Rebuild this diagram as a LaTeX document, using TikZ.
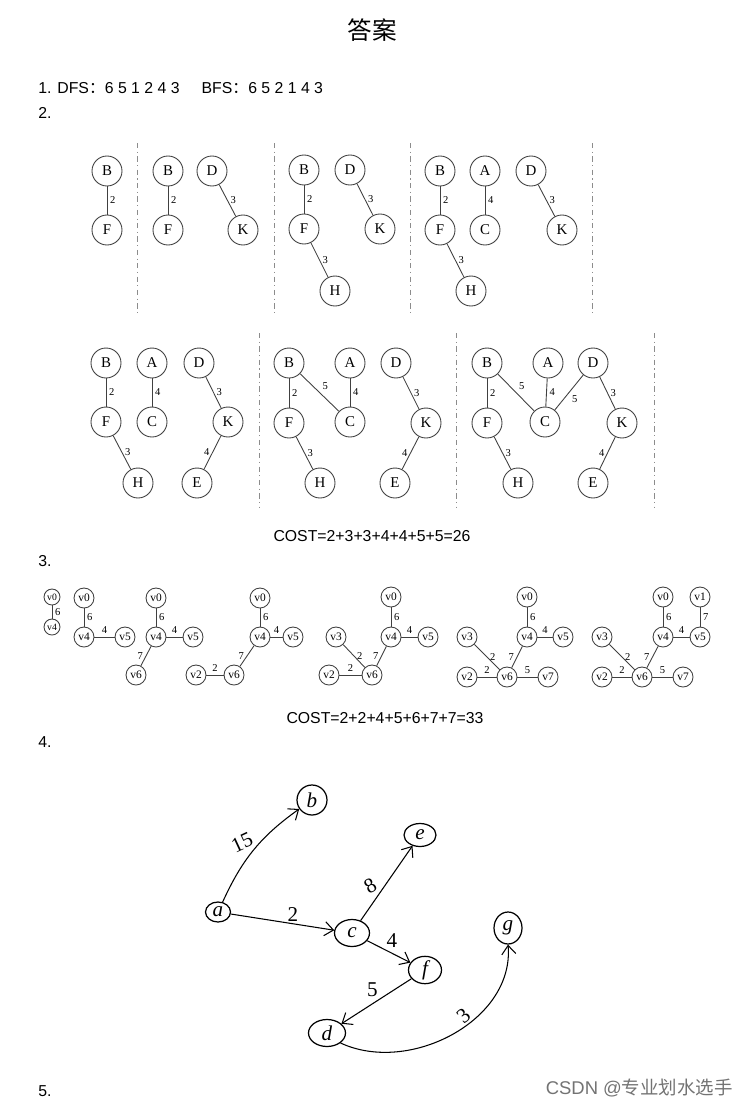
\documentclass[tikz,border=0pt]{standalone}
\usepackage{fontspec}
\setmainfont{Liberation Serif}
\newfontfamily\testo{Liberation Sans}
\newfontfamily\cjk{Noto Sans CJK SC}
\usetikzlibrary{arrows.meta,shapes.geometric}

\begin{document}
\begin{tikzpicture}[
    x=0.02cm, y=-0.02cm,
    nd/.style={circle, draw=black!75, line width=0.5pt, minimum size=0.6cm, inner sep=0pt,
      font=\fontsize{8.5}{9}\selectfont},
    vv/.style={circle, draw=black!75, line width=0.5pt, minimum size=0.4cm, inner sep=0pt,
      font=\fontsize{6.5}{7}\selectfont},
    pv/.style={vv, minimum size=0.32cm, font=\fontsize{5.5}{6}\selectfont},
    ar/.style={draw=black!75, line width=0.5pt},
    pe/.style={font=\fontsize{6}{7}\selectfont, inner sep=1.5pt},
    sep/.style={black!45, line width=0.4pt, dash pattern=on 3pt off 2pt on 0.6pt off 2pt},
    tx/.style={font=\testo\fontsize{9}{11}\selectfont, inner sep=0pt},
    hw/.style={ellipse, draw, line width=0.7pt, inner sep=0pt,
      font=\itshape\fontsize{12}{13}\selectfont},
    fr/.style={line width=0.6pt, -{Straight Barb[length=5pt, width=8pt]}},
    hl/.style={font=\fontsize{12}{13}\selectfont, inner sep=1pt},
  ]
  \useasboundingbox (0,0) rectangle (748,1109);

  % --- titolo e risposte testuali ---
  \node[font=\cjk\fontsize{14}{16}\selectfont] (titolo) at (372,30) {答案};
  \node[tx, anchor=west] (r1) at (38,88)
       {1. DFS{\cjk ：}6 5 1 2 4 3\hspace{1.4em}BFS{\cjk ：}6 5 2 1 4 3};
  \node[tx, anchor=west] (r2) at (38,113) {2.};

  % --- 2. prima riga ---
  \node[nd] (b1) at (107,171) {B};
  \node[nd] (f1) at (107,230) {F};
  \draw[ar] (b1) -- node[pe, right] {2} (f1);
  \draw[sep] (137,143) -- (137,313);

  \node[nd] (b2) at (168,171) {B};
  \node[nd] (f2) at (168,230) {F};
  \node[nd] (d2) at (212,171) {D};
  \node[nd] (k2) at (243,230) {K};
  \draw[ar] (b2) -- node[pe, right] {2} (f2);
  \draw[ar] (d2) -- node[pe, right] {3} (k2);
  \draw[sep] (274,143) -- (274,313);

  \node[nd] (b3) at (304,170) {B};
  \node[nd] (f3) at (304,229) {F};
  \node[nd] (d3) at (350,170) {D};
  \node[nd] (k3) at (380,229) {K};
  \node[nd] (h3) at (335,291) {H};
  \draw[ar] (b3) -- node[pe, right] {2} (f3);
  \draw[ar] (d3) -- node[pe, right] {3} (k3);
  \draw[ar] (f3) -- node[pe, right] {3} (h3);
  \draw[sep] (410,143) -- (410,313);

  \node[nd] (b4) at (440,171) {B};
  \node[nd] (f4) at (440,230) {F};
  \node[nd] (a4) at (485,171) {A};
  \node[nd] (c4) at (485,230) {C};
  \node[nd] (d4) at (531,171) {D};
  \node[nd] (k4) at (562,230) {K};
  \node[nd] (h4) at (471,291) {H};
  \draw[ar] (b4) -- node[pe, right] {2} (f4);
  \draw[ar] (a4) -- node[pe, right] {4} (c4);
  \draw[ar] (d4) -- node[pe, right] {3} (k4);
  \draw[ar] (f4) -- node[pe, right] {3} (h4);
  \draw[sep] (592,143) -- (592,313);

  % --- 2. seconda riga ---
  \node[nd] (b5) at (106,363) {B};
  \node[nd] (f5) at (106,422) {F};
  \node[nd] (a5) at (152,363) {A};
  \node[nd] (c5) at (152,422) {C};
  \node[nd] (d5) at (199,363) {D};
  \node[nd] (k5) at (228,422) {K};
  \node[nd] (h5) at (138,483) {H};
  \node[nd] (e5) at (197,483) {E};
  \draw[ar] (b5) -- node[pe, right] {2} (f5);
  \draw[ar] (a5) -- node[pe, right] {4} (c5);
  \draw[ar] (d5) -- node[pe, right] {3} (k5);
  \draw[ar] (f5) -- node[pe, right] {3} (h5);
  \draw[ar] (k5) -- node[pe, left] {4} (e5);
  \draw[sep] (259,333) -- (259,508);

  \node[nd] (b6) at (289,363) {B};
  \node[nd] (f6) at (289,423) {F};
  \node[nd] (a6) at (350,363) {A};
  \node[nd] (c6) at (350,422) {C};
  \node[nd] (d6) at (396,363) {D};
  \node[nd] (k6) at (426,423) {K};
  \node[nd] (h6) at (320,483) {H};
  \node[nd] (e6) at (395,483) {E};
  \draw[ar] (b6) -- node[pe, right] {2} (f6);
  \draw[ar] (b6) -- node[pe, above right] {5} (c6);
  \draw[ar] (a6) -- node[pe, right] {4} (c6);
  \draw[ar] (d6) -- node[pe, right] {3} (k6);
  \draw[ar] (f6) -- node[pe, right] {3} (h6);
  \draw[ar] (k6) -- node[pe, left] {4} (e6);
  \draw[sep] (456,333) -- (456,508);

  \node[nd] (b7) at (487,363) {B};
  \node[nd] (f7) at (487,423) {F};
  \node[nd] (a7) at (548,363) {A};
  \node[nd] (c7) at (545,422) {C};
  \node[nd] (d7) at (593,363) {D};
  \node[nd] (k7) at (622,423) {K};
  \node[nd] (h7) at (518,483) {H};
  \node[nd] (e7) at (593,483) {E};
  \draw[ar] (b7) -- node[pe, right] {2} (f7);
  \draw[ar] (b7) -- node[pe, above right] {5} (c7);
  \draw[ar] (a7) -- node[pe, right] {4} (c7);
  \draw[ar] (c7) -- node[pe, below right] {5} (d7);
  \draw[ar] (d7) -- node[pe, right] {3} (k7);
  \draw[ar] (f7) -- node[pe, right] {3} (h7);
  \draw[ar] (k7) -- node[pe, left] {4} (e7);
  \draw[sep] (654,333) -- (654,508);

  \node[tx] (c26) at (372,536) {COST=2+3+3+4+4+5+5=26};
  \node[tx, anchor=west] (r3) at (38,561) {3.};

  % --- 3. alberi v0..v7 ---
  \node[pv] (p0) at (52,597) {v0};
  \node[pv] (p4) at (52,627) {v4};
  \draw[ar] (p0) -- node[pe, right] {6} (p4);

  \node[vv] (q0) at (84,598) {v0};
  \node[vv] (q4) at (84,637) {v4};
  \node[vv] (q5) at (125,637) {v5};
  \draw[ar] (q0) -- node[pe, right] {6} (q4);
  \draw[ar] (q4) -- node[pe, above] {4} (q5);

  \node[vv] (r0) at (156,598) {v0};
  \node[vv] (r4) at (156,637) {v4};
  \node[vv] (r5) at (193,637) {v5};
  \node[vv] (r6) at (136,675) {v6};
  \draw[ar] (r0) -- node[pe, right] {6} (r4);
  \draw[ar] (r4) -- node[pe, above] {4} (r5);
  \draw[ar] (r4) -- node[pe, left] {7} (r6);

  \node[vv] (s0) at (260,598) {v0};
  \node[vv] (s4) at (260,637) {v4};
  \node[vv] (s5) at (293,637) {v5};
  \node[vv] (s6) at (234,675) {v6};
  \node[vv] (s2) at (196,675) {v2};
  \draw[ar] (s0) -- node[pe, right] {6} (s4);
  \draw[ar] (s4) -- node[pe, above] {4} (s5);
  \draw[ar] (s4) -- node[pe, left] {7} (s6);
  \draw[ar] (s2) -- node[pe, above] {2} (s6);

  \node[vv] (t0) at (391,597) {v0};
  \node[vv] (t4) at (391,637) {v4};
  \node[vv] (t5) at (428,637) {v5};
  \node[vv] (t3) at (336,637) {v3};
  \node[vv] (t2) at (329,675) {v2};
  \node[vv] (t6) at (372,675) {v6};
  \draw[ar] (t0) -- node[pe, right] {6} (t4);
  \draw[ar] (t4) -- node[pe, above] {4} (t5);
  \draw[ar] (t4) -- node[pe, left] {7} (t6);
  \draw[ar] (t3) -- node[pe, right] {2} (t6);
  \draw[ar] (t2) -- node[pe, above] {2} (t6);

  \node[vv] (u0) at (527,597) {v0};
  \node[vv] (u4) at (527,637) {v4};
  \node[vv] (u5) at (563,637) {v5};
  \node[vv] (u3) at (467,637) {v3};
  \node[vv] (u2) at (467,677) {v2};
  \node[vv] (u6) at (507,677) {v6};
  \node[vv] (u7) at (548,677) {v7};
  \draw[ar] (u0) -- node[pe, right] {6} (u4);
  \draw[ar] (u4) -- node[pe, above] {4} (u5);
  \draw[ar] (u4) -- node[pe, left] {7} (u6);
  \draw[ar] (u3) -- node[pe, right] {2} (u6);
  \draw[ar] (u2) -- node[pe, above] {2} (u6);
  \draw[ar] (u6) -- node[pe, above] {5} (u7);

  \node[vv] (w0) at (663,597) {v0};
  \node[vv] (w1) at (700,597) {v1};
  \node[vv] (w4) at (663,637) {v4};
  \node[vv] (w5) at (700,637) {v5};
  \node[vv] (w3) at (602,637) {v3};
  \node[vv] (w2) at (602,677) {v2};
  \node[vv] (w6) at (642,677) {v6};
  \node[vv] (w7) at (683,677) {v7};
  \draw[ar] (w0) -- node[pe, right] {6} (w4);
  \draw[ar] (w1) -- node[pe, right] {7} (w5);
  \draw[ar] (w4) -- node[pe, above] {4} (w5);
  \draw[ar] (w4) -- node[pe, left] {7} (w6);
  \draw[ar] (w3) -- node[pe, right] {2} (w6);
  \draw[ar] (w2) -- node[pe, above] {2} (w6);
  \draw[ar] (w6) -- node[pe, above] {5} (w7);

  \node[tx] (c33) at (385,718) {COST=2+2+4+5+6+7+7=33};
  \node[tx, anchor=west] (r4) at (38,742) {4.};

  % --- 4. grafo disegnato a mano ---
  \node[hw, minimum width=0.5cm,  minimum height=0.4cm]  (a) at (218,912) {a};
  \node[hw, minimum width=0.6cm,  minimum height=0.6cm]  (b) at (312,800) {b};
  \node[hw, minimum width=0.64cm, minimum height=0.46cm] (e) at (420,835) {e};
  \node[hw, minimum width=0.7cm,  minimum height=0.54cm] (c) at (352,933) {c};
  \node[hw, minimum width=0.56cm, minimum height=0.64cm] (g) at (508,928) {g};
  \node[hw, minimum width=0.66cm, minimum height=0.5cm]  (f) at (425,970) {f};
  \node[hw, minimum width=0.74cm, minimum height=0.54cm] (d) at (327,1033) {d};

  \draw[fr] (a) to[bend left=15]
       node[hl, rotate=25, above left=0pt, pos=0.55] {15} (b);
  \draw[fr] (a) -- node[hl, above, pos=0.6] {2} (c);
  \draw[fr] (c) -- node[hl, rotate=30, above left, pos=0.4] {8} (e);
  \draw[fr] (c) -- node[hl, above right, pos=0.4] {4} (f);
  \draw[fr] (f) -- node[hl, above left, pos=0.45] {5} (d);
  \draw[fr] (d.south east) to[out=-25, in=-85]
       node[hl, rotate=40, above left, pos=0.62] {3} (g.south);

  \node[tx, anchor=west] (r5) at (38,1091) {5.};
  \node[tx, anchor=east, text=black!55, font=\testo\fontsize{10.5}{12}\selectfont]
       (wm) at (733,1088) {CSDN @{\cjk 专业划水选手}};

\end{tikzpicture}
\end{document}
